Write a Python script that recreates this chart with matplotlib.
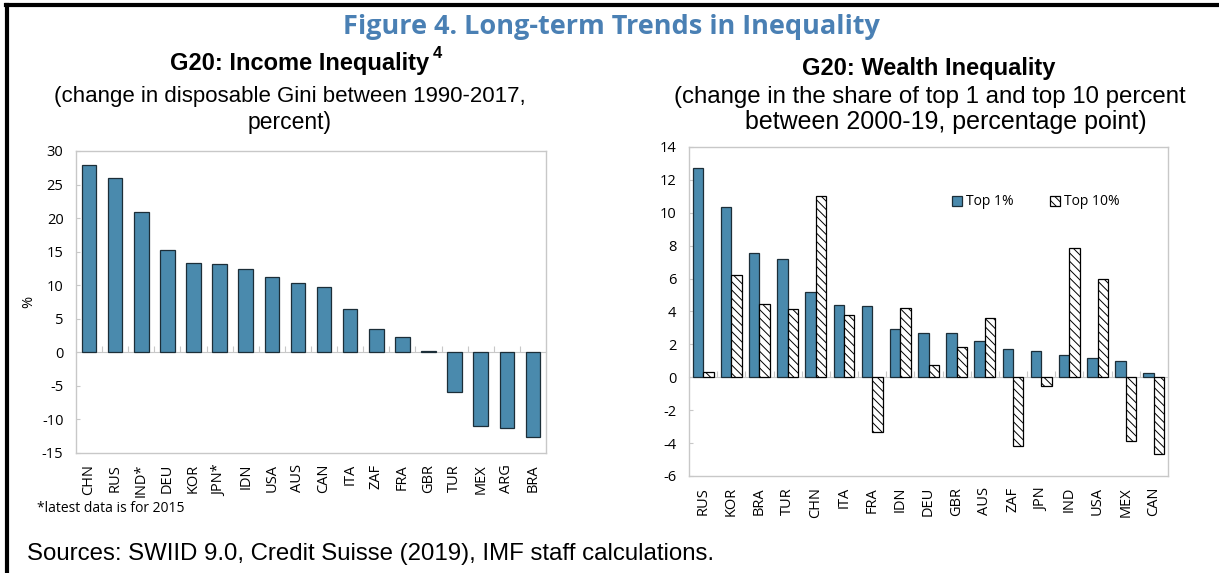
import matplotlib
matplotlib.use("Agg")
import matplotlib.pyplot as plt
import numpy as np

# income inequality: change in disposable Gini 1990-2017, percent
income_countries = ["CHN", "RUS", "IND*", "DEU", "KOR", "JPN*", "IDN", "USA", "AUS",
                    "CAN", "ITA", "ZAF", "FRA", "GBR", "TUR", "MEX", "ARG", "BRA"]
income_change = [27.9, 26.0, 20.9, 15.3, 13.3, 13.1, 12.4, 11.2, 10.4,
                 9.8, 6.5, 3.5, 2.3, 0.2, -5.9, -11.0, -11.3, -12.6]

# wealth inequality: change in share of top 1 / top 10 percent 2000-19, pp
wealth_countries = ["RUS", "KOR", "BRA", "TUR", "CHN", "ITA", "FRA", "IDN", "DEU",
                    "GBR", "AUS", "ZAF", "JPN", "IND", "USA", "MEX", "CAN"]
top1 = [12.7, 10.35, 7.55, 7.2, 5.2, 4.4, 4.35, 2.95, 2.7,
        2.7, 2.2, 1.7, 1.6, 1.35, 1.2, 1.0, 0.25]
top10 = [0.3, 6.2, 4.45, 4.15, 11.05, 3.8, -3.35, 4.2, 0.75,
         1.85, 3.6, -4.2, -0.55, 7.85, 5.95, -3.9, -4.65]

W, H = 1219, 573
BAR = "#4a8aad"
EDGE = "#1c2e38"
FRAME = "#c8c8c8"
TITLE_BLUE = "#4a80b4"
TICKFONT = "Open Sans"
SUBFONT = "Liberation Sans"

plt.rcParams["hatch.linewidth"] = 0.7
plt.rcParams["axes.unicode_minus"] = False

fig = plt.figure(figsize=(W / 100, H / 100), dpi=100)


def box(x0, y0, x1, y1):
    # pixel box (top-left origin) -> figure fraction rect
    return [x0 / W, 1 - y1 / H, (x1 - x0) / W, (y1 - y0) / H]


def put(x, y, s, **kw):
    return fig.text(x / W, 1 - y / H, s, **kw)


def style_axes(ax, ymin, ymax, step):
    ax.set_ylim(ymin, ymax)
    ax.set_yticks(np.arange(ymin, ymax + 0.1, step))
    for sp in ax.spines.values():
        sp.set_color(FRAME)
        sp.set_linewidth(1.0)
    ax.tick_params(axis="y", direction="in", length=3, color=FRAME, pad=9,
                   labelsize=10.5)
    ax.tick_params(axis="x", length=0, pad=8, labelsize=10.5, labelrotation=90)
    for lab in ax.get_xticklabels() + ax.get_yticklabels():
        lab.set_fontfamily(TICKFONT)
    # zero line with small category ticks
    n = len(ax.get_xticks())
    zero = ax.secondary_xaxis(-ymin / (ymax - ymin))
    zero.spines["bottom"].set_color(FRAME)
    zero.set_xticks(np.arange(n - 1) + 0.5)
    zero.tick_params(direction="in", length=4, color=FRAME, labelbottom=False)


# ---- left panel ----
ax1 = fig.add_axes(box(76, 151, 546, 453))
x1 = np.arange(len(income_countries))
ax1.bar(x1, income_change, width=0.56, color=BAR, edgecolor=EDGE, linewidth=0.9,
        zorder=3)
ax1.set_xlim(-0.5, len(income_countries) - 0.5)
ax1.set_xticks(x1)
ax1.set_xticklabels(income_countries)
style_axes(ax1, -15, 30, 5)
ax1.set_ylabel("%", fontsize=10.5, fontfamily=TICKFONT, labelpad=4)

# ---- right panel ----
ax2 = fig.add_axes(box(689, 147, 1168, 476))
x2 = np.arange(len(wealth_countries))
bw = 0.37
ax2.bar(x2 - bw / 2, top1, width=bw, color=BAR, edgecolor=EDGE, linewidth=0.9,
        label="Top 1%", zorder=3)
ax2.bar(x2 + bw / 2, top10, width=bw, color="white", edgecolor="black",
        linewidth=0.9, hatch="\\\\\\\\", label="Top 10%", zorder=3)
ax2.set_xlim(-0.5, len(wealth_countries) - 0.5)
ax2.set_xticks(x2)
ax2.set_xticklabels(wealth_countries)
style_axes(ax2, -6, 14, 2)
ax2.legend(loc="center", bbox_to_anchor=(0.724, 0.833), ncol=2, frameon=False,
           handlelength=0.75, handleheight=0.75, handletextpad=0.3,
           columnspacing=2.6, prop={"family": TICKFONT, "size": 10})

# ---- texts ----
put(611, 27, "Figure 4. Long-term Trends in Inequality", ha="center", va="center",
    fontsize=19.5, fontweight="bold", color=TITLE_BLUE, fontfamily=TICKFONT)

t = put(300, 63, "G20: Income Inequality", ha="center", va="center",
        fontsize=17, fontweight="bold", fontfamily=SUBFONT)
fig.canvas.draw()
bb = t.get_window_extent()
fig.text(bb.x1 / W + 3 / W, bb.y1 / H - 9 / H, "4", ha="left", va="bottom",
         fontsize=12, fontweight="bold", fontfamily=SUBFONT)
put(290, 97, "(change in disposable Gini between 1990-2017,", ha="center",
    va="center", fontsize=16, fontfamily=SUBFONT)
put(290, 122, "percent)", ha="center", va="center", fontsize=16.5,
    fontfamily=SUBFONT)

put(929, 69, "G20: Wealth Inequality", ha="center", va="center", fontsize=17,
    fontweight="bold", fontfamily=SUBFONT)
put(930, 97, "(change in the share of top 1 and top 10 percent", ha="center",
    va="center", fontsize=17.3, fontfamily=SUBFONT)
put(946, 122, "between 2000-19, percentage point)", ha="center", va="center",
    fontsize=18, fontfamily=SUBFONT)

put(37, 508, "*latest data is for 2015", ha="left", va="center", fontsize=10,
    fontfamily=TICKFONT)
put(27, 554, "Sources: SWIID 9.0, Credit Suisse (2019), IMF staff calculations.",
    ha="left", va="center", fontsize=17.3, fontfamily=SUBFONT)

# frame lines on top and left of the figure
fig.add_artist(plt.Line2D([6 / W, 1], [1 - 5 / H, 1 - 5 / H], color="black",
                          linewidth=3, transform=fig.transFigure))
fig.add_artist(plt.Line2D([7 / W, 7 / W], [0, 1 - 5 / H], color="black",
                          linewidth=3, transform=fig.transFigure))

fig.savefig("out.png", dpi=100)
